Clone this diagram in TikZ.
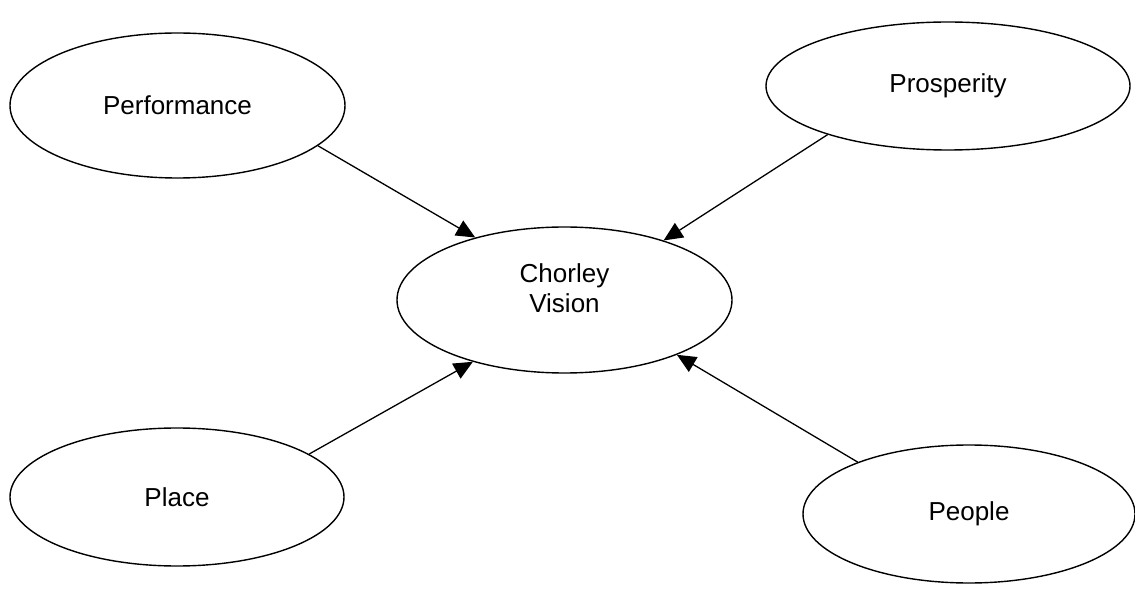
\documentclass[tikz,border=0pt]{standalone}
\usepackage{fontspec}
\setmainfont{Liberation Sans}
\usetikzlibrary{shapes.geometric,arrows.meta}
\begin{document}
\begin{tikzpicture}[x=1pt,y=-1pt,
  oval/.style={draw=black,line width=1.4pt,ellipse,inner sep=0pt,font=\fontsize{26}{30}\selectfont,align=center},
  txt/.style={inner sep=0pt,font=\fontsize{26}{30}\selectfont,align=center},
  link/.style={draw=black,line width=1.3pt,-{Triangle[length=19pt,width=17pt]}}]
\useasboundingbox (0,0) rectangle (1135,593);
\node[oval,minimum width=335pt,minimum height=145pt] (perf) at (177.5,105.5) {Performance};
\node[oval,minimum width=364pt,minimum height=128pt] (pros) at (948,86) {Prosperity};
\node[oval,minimum width=335pt,minimum height=146pt] (chor) at (564.5,300) {};
\node[txt] (chortext) at (564.5,288) {Chorley\\Vision};
\node[oval,minimum width=334pt,minimum height=138pt] (place) at (177,497) {Place};
\node[oval,minimum width=332pt,minimum height=138pt] (people) at (969,514) {People};
\draw[link] (perf.-16.1) -- (chor.145.3);
\draw[link] (pros.-158) -- (chor.31.3);
\draw[link] (place.18.7) -- (chor.214.6);
\draw[link] (people.155.3) -- (chor.-26.9);
\end{tikzpicture}
\end{document}
